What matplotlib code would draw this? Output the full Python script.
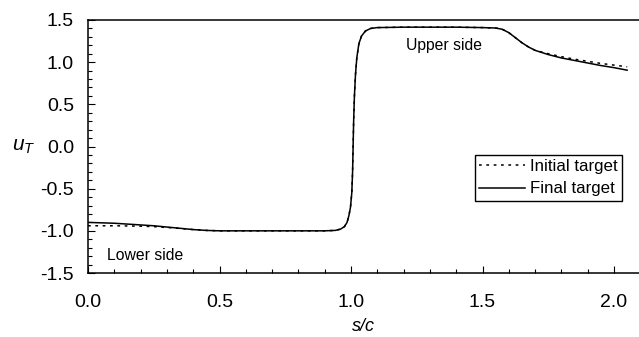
import matplotlib
matplotlib.use("Agg")
import matplotlib.pyplot as plt
from matplotlib.ticker import MultipleLocator, FormatStrFormatter

plt.rcParams['font.family'] = ['Liberation Sans', 'DejaVu Sans']
plt.rcParams['mathtext.fontset'] = 'custom'
plt.rcParams['mathtext.it'] = 'Liberation Sans:italic'
plt.rcParams['mathtext.rm'] = 'Liberation Sans'

# Final target
s_final = [0.00, 0.05, 0.10, 0.15, 0.20, 0.25, 0.30, 0.35, 0.40, 0.45, 0.50,
           0.60, 0.70, 0.80, 0.90, 0.94, 0.96, 0.975, 0.985, 0.992, 0.998,
           1.003, 1.006, 1.008, 1.010, 1.013, 1.017, 1.022, 1.030, 1.040,
           1.055, 1.075, 1.10, 1.20, 1.30, 1.40, 1.50, 1.55, 1.575, 1.60,
           1.625, 1.65, 1.675, 1.70, 1.75, 1.80, 1.85, 1.90, 1.95, 2.00, 2.05]
u_final = [-0.90, -0.905, -0.91, -0.92, -0.93, -0.94, -0.955, -0.97, -0.985, -0.995, -1.00,
           -1.00, -1.00, -1.00, -1.00, -0.995, -0.98, -0.95, -0.90, -0.82, -0.72,
           -0.55, -0.30, 0.00, 0.30, 0.60, 0.85, 1.05, 1.22, 1.31,
           1.37, 1.40, 1.41, 1.415, 1.415, 1.415, 1.41, 1.405, 1.39, 1.35,
           1.29, 1.23, 1.18, 1.14, 1.09, 1.05, 1.02, 0.99, 0.96, 0.935, 0.905]

# Initial target
s_init = s_final
u_init = [-0.94, -0.94, -0.94, -0.942, -0.945, -0.95, -0.96, -0.972, -0.985, -0.995, -1.00,
          -1.00, -1.00, -1.00, -1.00, -0.995, -0.98, -0.95, -0.90, -0.82, -0.72,
          -0.55, -0.30, 0.00, 0.30, 0.60, 0.85, 1.05, 1.22, 1.31,
          1.37, 1.40, 1.41, 1.415, 1.415, 1.415, 1.41, 1.405, 1.39, 1.35,
          1.29, 1.23, 1.18, 1.14, 1.10, 1.065, 1.035, 1.01, 0.985, 0.965, 0.945]

fig = plt.figure(figsize=(6.39, 3.37), dpi=100)
ax = fig.add_axes([88/639, 64/337, 551/639, 253/337])

ax.plot(s_init, u_init, color='black', lw=1.1, ls=(0, (1.8, 3.0)), label='Initial target')
ax.plot(s_final, u_final, color='black', lw=1.1, ls='-', label='Final target')

ax.set_xlim(0, 2.095)
ax.set_ylim(-1.5, 1.5)
ax.xaxis.set_major_locator(MultipleLocator(0.5))
ax.xaxis.set_minor_locator(MultipleLocator(0.1))
ax.yaxis.set_major_locator(MultipleLocator(0.5))
ax.yaxis.set_minor_locator(MultipleLocator(0.1))
ax.xaxis.set_major_formatter(FormatStrFormatter('%.1f'))
ax.yaxis.set_major_formatter(FormatStrFormatter('%.1f'))

ax.tick_params(which='both', direction='in', top=False, right=False, width=0.8)
ax.tick_params(which='major', length=5, labelsize=14)
ax.tick_params(which='minor', length=3)
ax.tick_params(axis='x', which='major', pad=15)
ax.tick_params(axis='y', which='major', pad=10)

ax.spines['right'].set_visible(False)
for sp in ['left', 'bottom', 'top']:
    ax.spines[sp].set_linewidth(1.1)

ax.set_xlabel('s/c', fontsize=13, style='italic', labelpad=5)
ax.set_ylabel('$u_T$', fontsize=15, rotation=0, labelpad=12, va='center')

ax.text(1.21, 1.20, 'Upper side', fontsize=11.3, ha='left', va='center')
ax.text(0.072, -1.287, 'Lower side', fontsize=11.3, ha='left', va='center')

leg = ax.legend(loc='upper right', bbox_to_anchor=(0.969, 0.466), fontsize=12.2,
                frameon=True, fancybox=False, edgecolor='black', framealpha=1,
                handlelength=2.7, handletextpad=0.3, borderpad=0.25, labelspacing=0.42,
                borderaxespad=0)
leg.get_frame().set_linewidth(1.0)

fig.savefig('out.png', dpi=100)
